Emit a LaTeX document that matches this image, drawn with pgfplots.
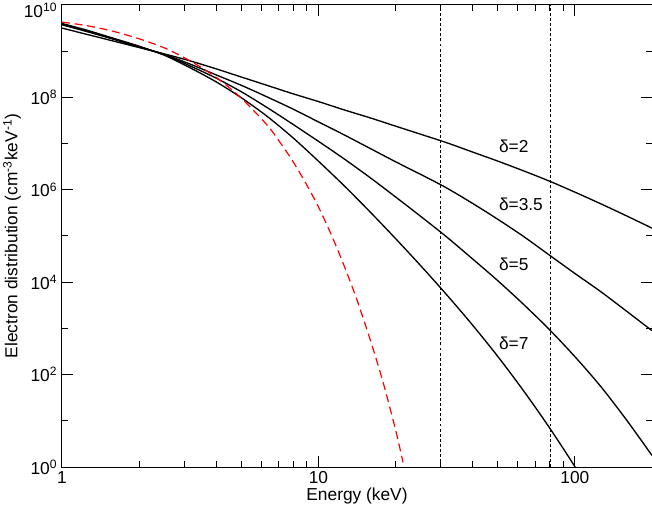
\documentclass[border=0pt]{standalone}
\usepackage{fontspec}
\setmainfont{Liberation Sans}
\usepackage{pgfplots}
\pgfplotsset{compat=1.18}

\begin{document}
\begin{tikzpicture}[font=\fontsize{13}{15}\selectfont]
\begin{axis}[
  name=main,
  scale only axis,
  width=442.5pt, height=346.5pt,
  xmode=log, ymode=log,
  xmin=1, xmax=200, ymin=1, ymax=1e10,
  xtick={1,10,100}, xticklabels={1,10,100},
  minor xtick={2,3,4,5,6,7,8,9,20,30,40,50,60,70,80,90},
  ytick={1,1e2,1e4,1e6,1e8,1e10},
  yticklabels={10\textsuperscript{0},10\textsuperscript{2},10\textsuperscript{4},10\textsuperscript{6},10\textsuperscript{8},{\raisebox{-4pt}[\height][\depth]{10\textsuperscript{10}}}},
  minor ytick={1e1,1e3,1e5,1e7,1e9},
  tick align=inside,
  xtick pos=both, ytick pos=both,
  major tick length=8pt, minor tick length=4.5pt,
  axis line style={line width=0.75pt},
  every tick/.style={black, line width=0.75pt},
  xlabel={Energy (keV)},
  ylabel={Electron distribution (cm\textsuperscript{-3}keV\textsuperscript{-1})},
  xlabel style={at={(axis description cs:0.5,-0.0628)}, anchor=center},
  ylabel style={at={(axis description cs:-0.0847,0.5)}, anchor=center},
]
% vertical markers
\addplot[black, line width=0.6pt, dash pattern=on 2.2pt off 1.6pt] coordinates {(30,1) (30,1e10)};
\addplot[black, line width=0.6pt, dash pattern=on 2.2pt off 1.6pt] coordinates {(80,1) (80,1e10)};

% delta = 2
\addplot[black, line width=1pt, smooth] coordinates {
  (1,3.162e9) (1.259,2.291e9) (1.585,1.660e9) (1.995,1.202e9) (2.512,8.710e8)
  (3.162,6.166e8) (3.981,4.169e8) (5.012,2.754e8) (6.310,1.820e8) (7.943,1.202e8)
  (10,8.128e7) (12.59,5.370e7) (15.85,3.631e7) (19.95,2.399e7) (25.12,1.585e7)
  (31.62,1.047e7) (39.81,6.607e6) (50.12,4.169e6) (63.10,2.570e6) (79.43,1.549e6)
  (100,8.913e5) (125.9,5.012e5) (158.5,2.754e5) (200,1.479e5)
};
% delta = 3.5
\addplot[black, line width=1pt, smooth] coordinates {
  (1,3.715e9) (1.259,2.630e9) (1.585,1.820e9) (1.995,1.230e9) (2.512,8.511e8)
  (3.162,5.248e8) (3.981,3.090e8) (5.012,1.820e8) (6.310,1.023e8) (7.943,5.623e7)
  (10,2.951e7) (12.59,1.549e7) (15.85,7.943e6) (19.95,4.074e6) (25.12,2.138e6)
  (31.62,1.096e6) (39.81,5.129e5) (50.12,2.291e5) (63.10,9.772e4) (79.43,3.890e4)
  (100,1.549e4) (125.9,6.310e3) (158.5,2.399e3) (200,8.913e2)
};
% delta = 5
\addplot[black, line width=1pt, smooth] coordinates {
  (1,3.890e9) (1.259,2.692e9) (1.585,1.862e9) (1.995,1.259e9) (2.512,8.318e8)
  (3.162,4.786e8) (3.981,2.630e8) (5.012,1.318e8) (6.310,6.026e7) (7.943,2.630e7)
  (10,1.122e7) (12.59,4.677e6) (15.85,1.862e6) (19.95,7.079e5) (25.12,2.630e5)
  (31.62,9.550e4) (39.81,3.236e4) (50.12,1.072e4) (63.10,3.311e3) (79.43,9.550e2)
  (100,2.455e2) (125.9,5.623e1) (158.5,1.072e1) (200,1.778)
};
% delta = 7
\addplot[black, line width=1pt, smooth] coordinates {
  (1,3.981e9) (1.259,2.818e9) (1.585,1.905e9) (1.995,1.288e9) (2.512,8.128e8)
  (3.162,4.365e8) (3.981,2.188e8) (5.012,9.772e7) (6.310,3.890e7) (7.943,1.349e7)
  (10,4.169e6) (12.59,1.230e6) (15.85,3.388e5) (19.95,8.913e4) (25.12,2.239e4)
  (31.62,5.370e3) (39.81,1.202e3) (50.12,2.455e2) (63.10,4.467e1) (79.43,7.244)
  (100,1.023) (125.9,0.1259)
};
% thermal
\addplot[red, line width=0.9pt, dash pattern=on 6pt off 3.5pt, smooth] coordinates {
  (1,4.266e9) (1.259,3.548e9) (1.585,2.692e9) (1.995,1.862e9) (2.512,1.175e9)
  (3.162,6.166e8) (3.981,2.754e8) (5.012,9.550e7) (6.310,2.512e7) (7.079,1.072e7)
  (7.943,4.169e6) (8.913,1.413e6) (10,4.266e5) (11.22,1.072e5) (12.59,2.291e4)
  (14.13,4.169e3) (15.85,6.166e2) (17.78,7.586e1) (19.95,6.761) (21.38,1.259)
};

\node[anchor=west, inner sep=0pt] at (axis cs:50.5,8.9e6) {δ=2};
\node[anchor=west, inner sep=0pt] at (axis cs:50.5,4.9e5) {δ=3.5};
\node[anchor=west, inner sep=0pt] at (axis cs:50.5,2.45e4) {δ=5};
\node[anchor=west, inner sep=0pt] at (axis cs:50.5,4.8e2) {δ=7};
\end{axis}
\pgfresetboundingbox
\path[use as bounding box] ([xshift=-46.5pt,yshift=-32.25pt]main.south west) rectangle ([yshift=3.75pt]main.north east);
\end{tikzpicture}
\end{document}
